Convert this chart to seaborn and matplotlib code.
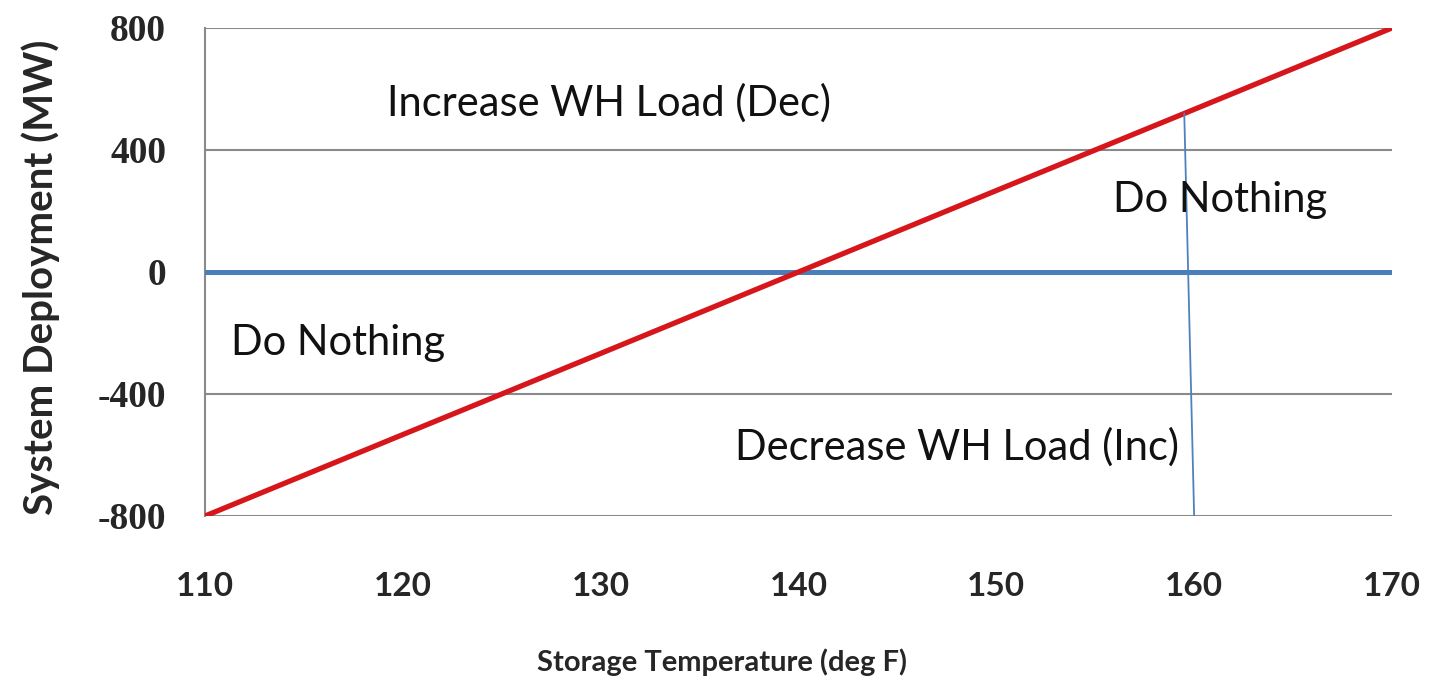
import matplotlib
matplotlib.use("Agg")
import matplotlib.pyplot as plt
import seaborn as sns
import pandas as pd

# data
temp = [110, 120, 130, 140, 150, 160, 170]
deployment = [-800, -533, -267, 0, 267, 533, 800]
zero_x = [110, 170]
zero_y = [0, 0]
cut_x = [159.5, 160.0]
cut_y = [520, -800]
x_ticks = [110, 120, 130, 140, 150, 160, 170]
y_ticks = [-800, -400, 0, 400, 800]

region_labels = ["Increase WH Load (Dec)", "Do Nothing", "Do Nothing", "Decrease WH Load (Inc)"]
region_x = [119.2, 155.9, 111.3, 136.8]
region_y = [554, 236, -233, -574]

sns.set_theme(style="white")
plt.rcParams['font.family'] = ['Lato', 'DejaVu Sans']

fig, ax = plt.subplots(figsize=(14.3, 6.89), dpi=100)
fig.subplots_adjust(left=0.1434, right=0.9734, top=0.9594, bottom=0.2511)

line_df = pd.DataFrame({"temp": temp, "deployment": deployment})
sns.lineplot(data=line_df, x="temp", y="deployment", color="#d7161c", linewidth=3.8, ax=ax, zorder=4)
sns.lineplot(x=zero_x, y=zero_y, color="#4a7ebb", linewidth=3.6, ax=ax, zorder=3)
sns.lineplot(x=cut_x, y=cut_y, color="#4f81bd", linewidth=1.3, ax=ax, zorder=5)

for label, lx, ly in zip(region_labels, region_x, region_y):
    ax.text(lx, ly, label, fontsize=30, color="#111111", ha="left", va="center", zorder=6)

ax.set_xlim(110, 170)
ax.set_ylim(-800, 800)
ax.set_xticks(x_ticks)
ax.set_yticks(y_ticks)
ax.set_xticklabels([str(t) for t in x_ticks], fontsize=24, fontweight="bold")
ax.set_yticklabels([str(t) for t in y_ticks], fontsize=27, fontweight="bold",
                   family=["Liberation Serif", "DejaVu Serif"])
ax.tick_params(axis="y", length=0, pad=28)
ax.tick_params(axis="x", length=0, pad=40)

ax.yaxis.grid(True, color="#8a8a8a", linewidth=1.5)
ax.set_axisbelow(True)
for side in ["top", "right", "bottom"]:
    ax.spines[side].set_visible(False)
ax.spines["left"].set_color("#8a8a8a")
ax.spines["left"].set_linewidth(1.5)

ax.set_xlabel("Storage Temperature (deg F)", fontsize=21, fontweight="bold")
ax.set_ylabel("System Deployment (MW)", fontsize=29, fontweight="bold")
ax.xaxis.set_label_coords(0.4356, -0.272)
ax.yaxis.set_label_coords(-0.122, 0.49)

fig.savefig("out.png", dpi=100)
